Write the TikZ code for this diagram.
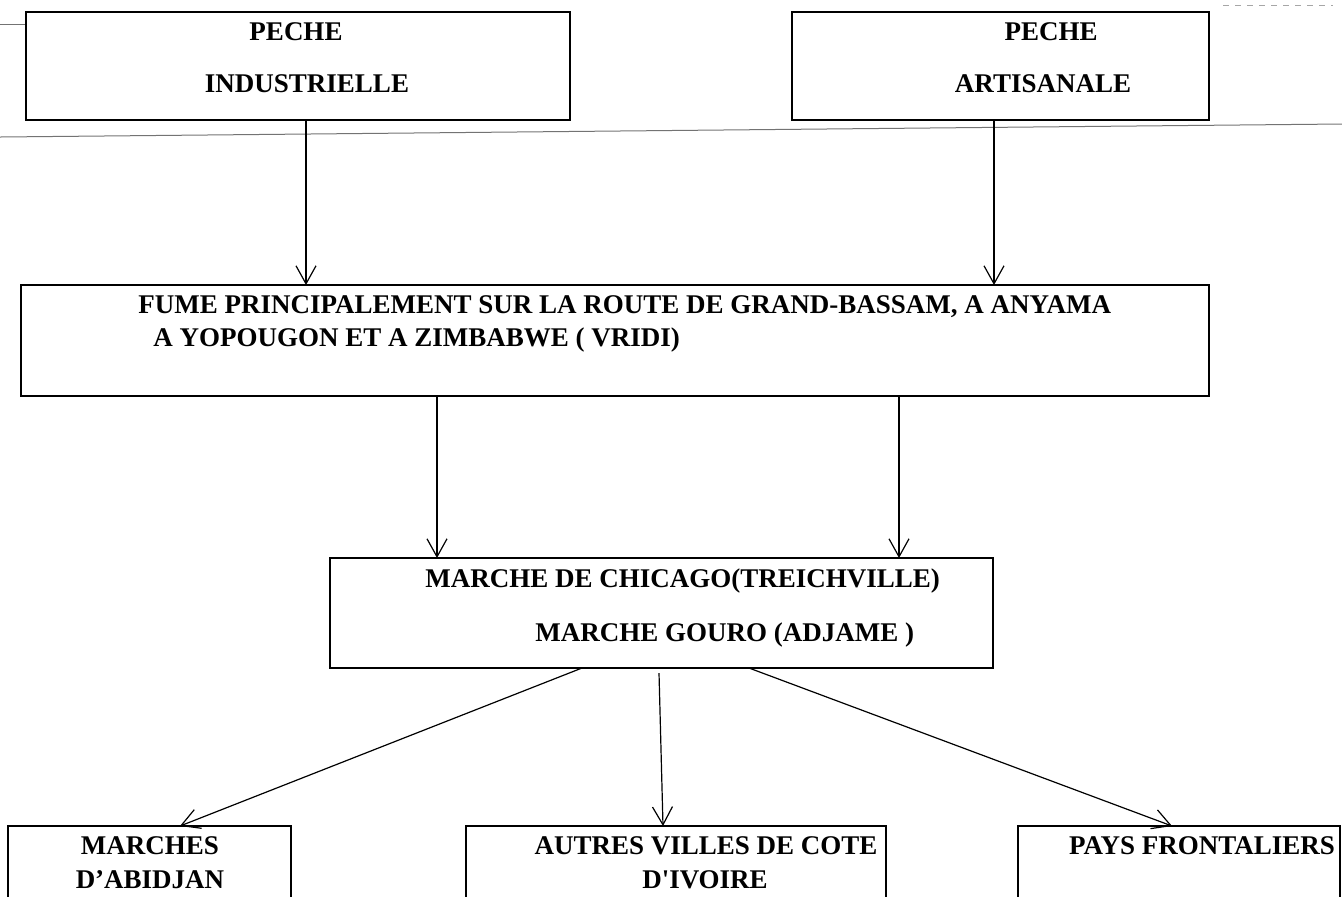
\documentclass[tikz,border=0pt]{standalone}
\usepackage{fontspec}
\setmainfont{Liberation Serif}
\usetikzlibrary{arrows.meta,calc}

\begin{document}
\begin{tikzpicture}[x=0.5pt,y=-0.5pt,
  box/.style={draw,line width=1.1pt,inner sep=0pt,outer sep=0pt},
  lbl/.style={font=\fontsize{13.5}{16}\selectfont\bfseries,inner sep=0pt,text height=9pt,text depth=0pt},
  arr/.style={line width=0.6pt,-{Straight Barb[length=9pt,width=10pt]}},
  scan/.style={line width=0.5pt,black!55}]
  \useasboundingbox (0,0) rectangle (1342,896);
  \clip (0,0) rectangle (1342,896);
  % scan traces
  \draw[scan] (0,24) -- (26,24);
  \draw[scan] (0,137) -- (1342,124);
  \draw[scan,dashed,black!35] (1223,5) -- (1333,5);
  % boxes
  \node[box,minimum width=272pt,minimum height=54pt] (ind) at (298,66) {};
  \node[box,minimum width=208.5pt,minimum height=54pt] (art) at (1000.5,66) {};
  \node[box,minimum width=594pt,minimum height=55.5pt] (fume) at (615,340.5) {};
  \node[box,minimum width=331.5pt,minimum height=55pt] (marche) at (661.5,613) {};
  \node[box,minimum width=141.5pt,minimum height=65pt] (abidjan) at (149.5,891) {};
  \node[box,minimum width=210pt,minimum height=65pt] (ivoire) at (676,891) {};
  \node[box,minimum width=161pt,minimum height=65pt] (pays) at (1179,891) {};
  % texts
  \node[lbl] (indA) at (296,31) {PECHE};
  \node[lbl] (indB) at (307,83) {INDUSTRIELLE};
  \node[lbl] (artA) at (1051,31) {PECHE};
  \node[lbl] (artB) at (1043,83) {ARTISANALE};
  \node[lbl,anchor=west] (fumeA) at (138,304) {FUME PRINCIPALEMENT SUR LA ROUTE DE GRAND-BASSAM, A ANYAMA};
  \node[lbl,anchor=west] (fumeB) at (153,337) {A YOPOUGON ET A ZIMBABWE ( VRIDI)};
  \node[lbl,anchor=west] (marA) at (425,578) {MARCHE DE CHICAGO(TREICHVILLE)};
  \node[lbl,anchor=west] (marB) at (535,632) {MARCHE GOURO (ADJAME )};
  \node[lbl] (abiA) at (150,845) {MARCHES};
  \node[lbl] (abiB) at (150,879) {D’ABIDJAN};
  \node[lbl] (ivoA) at (706,845) {AUTRES VILLES DE COTE};
  \node[lbl] (ivoB) at (705,879) {D\textquotesingle IVOIRE};
  \node[lbl] (paysA) at (1202,845) {PAYS FRONTALIERS};
  % arrows
  \draw[arr] ($(ind.south)+(8,0)$) -- ($(fume.north)+(-309,0)$);
  \draw[arr] ($(art.south)+(-6.5,0)$) -- ($(fume.north)+(379,0)$);
  \draw[arr] ($(fume.south)+(-178,0)$) -- ($(marche.north)+(-224.5,0)$);
  \draw[arr] ($(fume.south)+(284,0)$) -- ($(marche.north)+(237.5,0)$);
  \draw[arr] ($(marche.south)+(-79.5,0)$) -- ($(abidjan.north)+(30.5,0)$);
  \draw[arr] ($(marche.south)+(-2.5,5)$) -- ($(ivoire.north)+(-13,0)$);
  \draw[arr] ($(marche.south)+(87.5,0)$) -- ($(pays.north)+(-7,0)$);
\end{tikzpicture}
\end{document}
